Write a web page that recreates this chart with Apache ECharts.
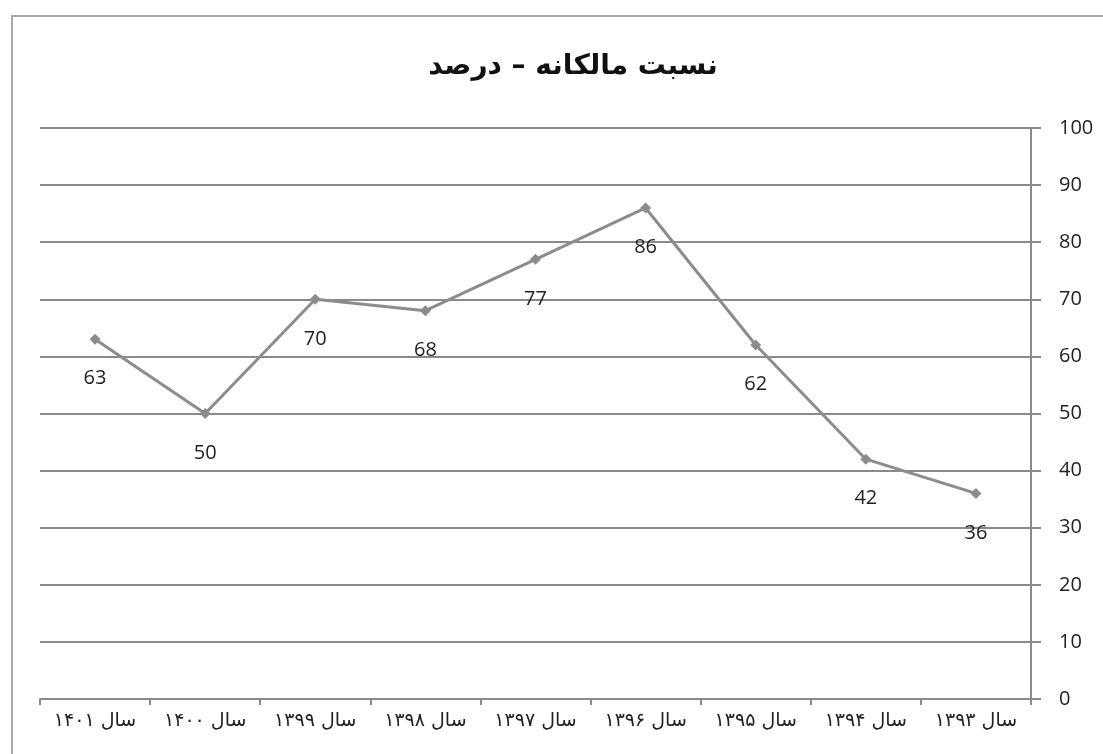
<!DOCTYPE html>
<html>
<head>
<meta charset="utf-8">
<script src="https://cdn.jsdelivr.net/npm/echarts@6/dist/echarts.min.js"></script>
<style>
html,body{margin:0;padding:0;background:#fff;}
#chart{width:1103px;height:754px;}
</style>
</head>
<body>
<div id="chart"></div>
<script>
const titleText = 'نسبت مالکانه – درصد';
const categories = ['سال ۱۳۹۳','سال ۱۳۹۴','سال ۱۳۹۵','سال ۱۳۹۶','سال ۱۳۹۷','سال ۱۳۹۸','سال ۱۳۹۹','سال ۱۴۰۰','سال ۱۴۰۱'];
const values = [36, 42, 62, 86, 77, 68, 70, 50, 63];
const yMin = 0, yMax = 100, yStep = 10;

const chart = echarts.init(document.getElementById('chart'), null, {renderer:'canvas'});
chart.setOption({
  backgroundColor:'#fff',
  animation:false,
  title:{
    text:titleText, left:568, top:48, textAlign:'center',
    textStyle:{fontFamily:'DejaVu Sans', fontWeight:'bold', fontSize:28, color:'#111'}
  },
  graphic:[{
    type:'rect', shape:{x:12, y:16, width:1300, height:900},
    style:{fill:'none', stroke:'#a8a8a8', lineWidth:2}, silent:true
  }],
  grid:{left:40, right:72, top:128, bottom:55},
  xAxis:{
    type:'category', data:categories, inverse:true, boundaryGap:true,
    axisLine:{lineStyle:{color:'#8a8a8a', width:2}},
    axisTick:{show:true, length:6, lineStyle:{color:'#8a8a8a', width:2}},
    axisLabel:{fontFamily:'DejaVu Sans', fontSize:19, color:'#222', margin:13, interval:0}
  },
  yAxis:{
    type:'value', position:'right', min:yMin, max:yMax, interval:yStep,
    axisLine:{show:true, lineStyle:{color:'#8a8a8a', width:2}},
    axisTick:{show:true, length:10, lineStyle:{color:'#8a8a8a', width:2}},
    axisLabel:{fontFamily:'Open Sans', fontSize:20, color:'#222', margin:28},
    splitLine:{show:true, lineStyle:{color:'#8a8a8a', width:2}}
  },
  series:[{
    type:'line', data:values,
    symbol:'diamond', symbolSize:11,
    itemStyle:{color:'#8c8c8c'},
    lineStyle:{color:'#8c8c8c', width:3},
    label:{show:true, position:'bottom', distance:24, fontFamily:'Open Sans', fontSize:20, color:'#222'}
  }]
});
</script>
</body>
</html>
